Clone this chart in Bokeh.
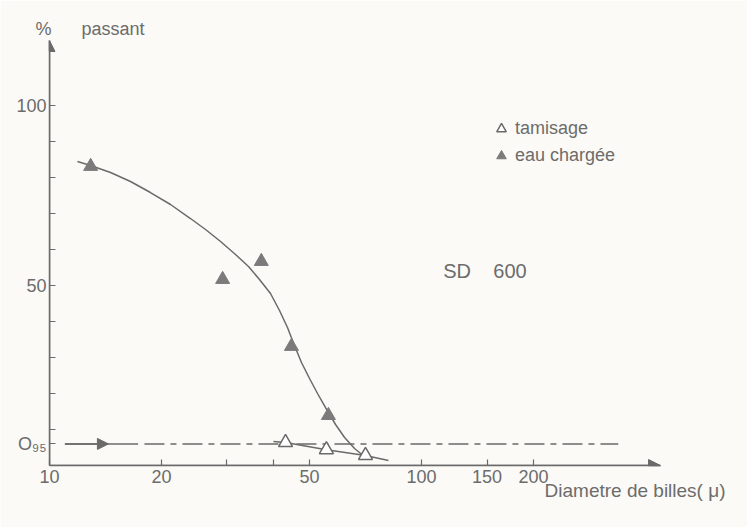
from bokeh.plotting import figure
from bokeh.models import (Range1d, FixedTicker, Arrow, NormalHead, Label,
                          Legend, LegendItem, BasicTickFormatter, Title)
from bokeh.embed import file_html
from bokeh.resources import INLINE

# ---------------- data ----------------
x_ticks = [10, 20, 30, 40, 50, 100, 150, 200]
x_tick_labels = ["10", "20", "", "", "50", "100", "150", "200"]
d95_level = 6.0
y_ticks = [d95_level, 10, 20, 30, 40, 50, 60, 70, 80, 90, 100]
y_tick_labels = ["O\u2089\u2085", "", "", "", "", "50", "", "", "", "", "100"]

# eau chargée (filled triangles)
charge_x = [12.9, 29.2, 37.1, 44.7, 56.2]
charge_y = [83.1, 51.7, 56.7, 33.1, 13.9]
# hand-drawn curve through eau chargée (traced)
charge_fit_x = [11.89, 12.89, 14.59, 16.51, 18.68, 21.15, 23.93, 26.27, 28.83,
                31.62, 34.27, 36.68, 39.27, 41.52, 43.62, 45.55, 47.57, 50.00,
                52.54, 55.55, 58.74, 62.11, 66.07, 70.70]
charge_fit_y = [84.44, 83.33, 81.39, 78.89, 75.83, 72.50, 68.61, 65.56, 62.22,
                58.61, 55.28, 51.67, 47.78, 43.06, 38.33, 33.33, 28.61, 24.17,
                20.00, 15.56, 11.39, 7.78, 4.72, 2.22]

# tamisage (open triangles)
tamis_x = [43.1, 55.5, 70.7]
tamis_y = [6.4, 4.4, 2.8]
tamis_fit_x = [40.0, 43.1, 55.5, 70.7, 81.5]
tamis_fit_y = [6.7, 6.4, 4.4, 2.8, 1.4]

# O95 reference level
d95_solid_x = [11.0, 17.3]
d95_arrow_x = [11.0, 14.4]
d95_dash_x = [18.0, 338.0]

x_axis_end = 439.0
x_view_end = 752.1
y_max = 118.06

# ---------------- styling ----------------
INK = "#6a6a6a"
TXT = "#6c6c6c"
BG = "#fbfaf6"
FONT = "Liberation Sans"
NB = "\u00a0"

p = figure(width=747, height=527, x_axis_type="log",
           x_range=Range1d(10, x_view_end), y_range=Range1d(0, y_max),
           output_backend="svg", toolbar_location=None,
           min_border_left=49, min_border_right=0,
           min_border_top=40, min_border_bottom=62)
p.title.visible = False
p.background_fill_color = BG
p.border_fill_color = BG
p.outline_line_color = None
p.grid.visible = False

# axes
p.xaxis.ticker = FixedTicker(ticks=x_ticks)
p.xaxis.formatter = BasicTickFormatter()
p.xaxis.major_label_overrides = dict(zip(x_ticks, x_tick_labels))
p.xaxis.bounds = (10, x_axis_end)
p.yaxis.ticker = FixedTicker(ticks=y_ticks)
p.yaxis.major_label_overrides = dict(zip(y_ticks, y_tick_labels))
for ax in (p.xaxis, p.yaxis):
    ax.axis_line_color = INK
    ax.axis_line_width = 1.5
    ax.major_tick_line_color = INK
    ax.major_tick_line_width = 1.2
    ax.major_tick_in = 6
    ax.major_tick_out = 0
    ax.minor_tick_line_color = None
    ax.major_label_text_font = FONT
    ax.major_label_text_font_size = "18px"
    ax.major_label_text_color = TXT
p.xaxis.major_label_standoff = 4
p.yaxis.major_label_standoff = 3

# axis arrows
p.add_layout(Arrow(end=NormalHead(size=11, fill_color=INK, line_color=INK),
                   x_start=10, y_start=0, x_end=10, y_end=y_max,
                   line_color=INK, line_width=1.5))
p.add_layout(Arrow(end=NormalHead(size=12, fill_color=INK, line_color=INK),
                   x_start=10, y_start=0, x_end=x_axis_end, y_end=0,
                   line_color=INK, line_width=1.5))

# O95 level
p.line(d95_solid_x, [d95_level, d95_level], line_color=INK, line_width=1.5)
p.add_layout(Arrow(end=NormalHead(size=11, fill_color=INK, line_color=INK),
                   x_start=d95_arrow_x[0], y_start=d95_level,
                   x_end=d95_arrow_x[1], y_end=d95_level,
                   line_color=INK, line_width=1.5))
p.line(d95_dash_x, [d95_level, d95_level], line_color=INK, line_width=1.5,
       line_dash="20 6 6 6")

# curves
p.line(charge_fit_x, charge_fit_y, line_color=INK, line_width=1.5)
p.line(tamis_fit_x, tamis_fit_y, line_color=INK, line_width=1.5)

r_tamis = p.scatter(tamis_x, tamis_y, marker="triangle", size=14,
                    fill_color="white", line_color=INK, line_width=1.5)
r_charge = p.scatter(charge_x, charge_y, marker="triangle", size=14,
                     fill_color="#7b7b7b", line_color="#7b7b7b")

legend = Legend(items=[LegendItem(label="tamisage", renderers=[r_tamis]),
                       LegendItem(label="eau chargée", renderers=[r_charge])],
                location=(440, 296), padding=0, margin=0, spacing=0,
                glyph_width=24, glyph_height=27, label_standoff=2,
                label_text_font=FONT, label_text_font_size="18px",
                label_text_color=TXT, border_line_color=None,
                background_fill_alpha=0)
p.add_layout(legend)

# texts
p.add_layout(Title(text="%" + NB * 6 + "passant", align="left", offset=-14,
                   standoff=4, text_font=FONT, text_font_size="18px",
                   text_font_style="normal", text_color=TXT), "above")
p.add_layout(Title(text="Diametre de billes( \u03bc)", align="right", offset=22,
                   standoff=-16, text_font=FONT, text_font_size="19px",
                   text_font_style="normal", text_color=TXT), "below")
p.add_layout(Label(x=114.4, y=53.9, text="SD" + NB * 4 + "600",
                   text_align="left", text_baseline="middle", text_font=FONT,
                   text_font_size="20px", text_color=TXT))

open("out.html", "w").write(file_html(p, INLINE))
